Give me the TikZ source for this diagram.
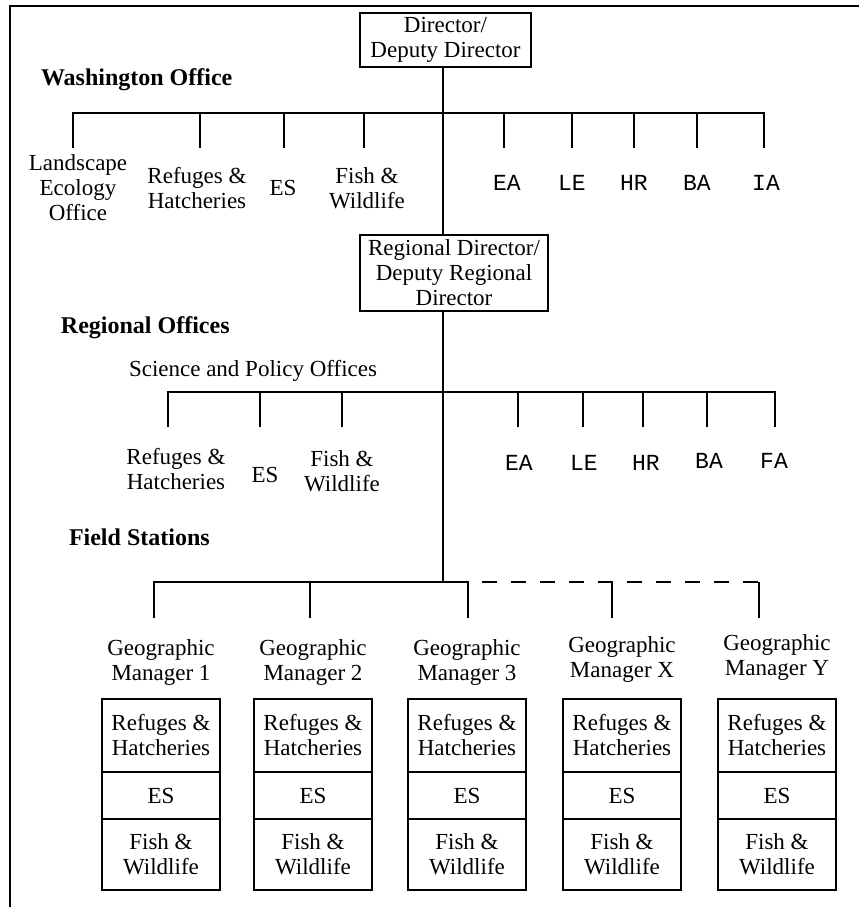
\documentclass[tikz,border=0pt]{standalone}
\usepackage{fontspec}
\setmainfont{Liberation Serif}
\setmonofont{Liberation Mono}
\usetikzlibrary{positioning}
\newcommand{\orgfont}{\fontsize{11.5}{12.5}\selectfont}

\begin{document}
\begin{tikzpicture}[x=0.5pt, y=-0.5pt, line width=1pt,
    every node/.style={font=\orgfont, align=center, inner sep=0pt},
    title/.style={font=\fontsize{12}{13}\selectfont\bfseries, anchor=west},
    office/.style={font=\orgfont\ttfamily},
    headbox/.style={draw, inner sep=0pt},
    cell/.style={draw, minimum width=59pt, outer sep=0pt}]
    \useasboundingbox (0,0) rectangle (859,907);
    % frame
    \draw (10,907) |- (859,6);

    % heads
    \node[headbox, minimum width=85.5pt, minimum height=27pt] (dir) at (445.5,40) {Director/\\Deputy Director};
    \node[headbox, minimum width=94pt, minimum height=38pt] (rd) at (454,273) {Regional Director/\\Deputy Regional\\Director};
    \coordinate (wbar) at (443,113);
    \coordinate (rbar) at (443,392);
    \coordinate (fbar) at (443,582);
    \draw (dir.south -| wbar) -- (rd.north -| wbar);
    \draw (rd.south -| fbar) -- (fbar);

    % Washington Office
    \node[title] (wo) at (40,80) {Washington Office};
    \foreach \n/\x/\lx/\t in {lo/73/78/{Landscape\\Ecology\\Office}, rh/200/197/{Refuges \&\\Hatcheries},
        es/284/283/ES, fw/364/367/{Fish \&\\Wildlife}} {
        \coordinate (wt\n) at (\x,148);
        \node (w\n) at (\lx,188) {\t};
        \draw (wt\n) |- (wbar);
    }
    \foreach \n/\x/\lx in {EA/504/507, LE/572/572, HR/634/634, BA/697/697, IA/764/766} {
        \coordinate (wt\n) at (\x,148);
        \node[office] (w\n) at (\lx,183) {\n};
        \draw (wt\n) |- (wbar);
    }

    % Regional Offices
    \node[title] (ro) at (60,328) {Regional Offices};
    \node[anchor=west] (sp) at (128,371) {Science and Policy Offices};
    \foreach \n/\x/\lx/\ly/\t in {rh/168/176/469/{Refuges \&\\Hatcheries}, es/260/265/475/ES,
        fw/342/342/471/{Fish \&\\Wildlife}} {
        \coordinate (rt\n) at (\x,427);
        \node (r\n) at (\lx,\ly) {\t};
        \draw (rt\n) |- (rbar);
    }
    \foreach \n/\x/\lx/\ly in {EA/518/519/463, LE/583/584/463, HR/643/646/463, BA/707/709/461, FA/775/774/461} {
        \coordinate (rt\n) at (\x,427);
        \node[office] (r\n) at (\lx,\ly) {\n};
        \draw (rt\n) |- (rbar);
    }

    % Field Stations
    \node[title] (fs) at (68,537) {Field Stations};
    \foreach \n/\x/\cx/\ly in {1/154/161/662, 2/310/313/662, 3/468/467/662, X/612/622/659, Y/759/777/657} {
        \coordinate (ft\n) at (\x,618);
        \node (gm\n) at (\cx,\ly) {Geographic\\Manager \n};
        \node[cell, minimum height=36.5pt] (rh\n) at (\cx,735.5) {Refuges \&\\Hatcheries};
        \node[cell, minimum height=23.5pt, below=0pt of rh\n] (es\n) {ES};
        \node[cell, minimum height=35.5pt, below=0pt of es\n] (fw\n) {Fish \&\\Wildlife};
    }
    \foreach \n in {1,2,3} \draw (ft\n) |- (fbar);
    \draw (ftX) -- (ftX |- fbar);
    \draw (ftY) -- (ftY |- fbar);
    \draw[dash pattern=on 7.5pt off 7pt, dash phase=7.5pt] (ft3 |- fbar) -- (ftY |- fbar);
\end{tikzpicture}
\end{document}
